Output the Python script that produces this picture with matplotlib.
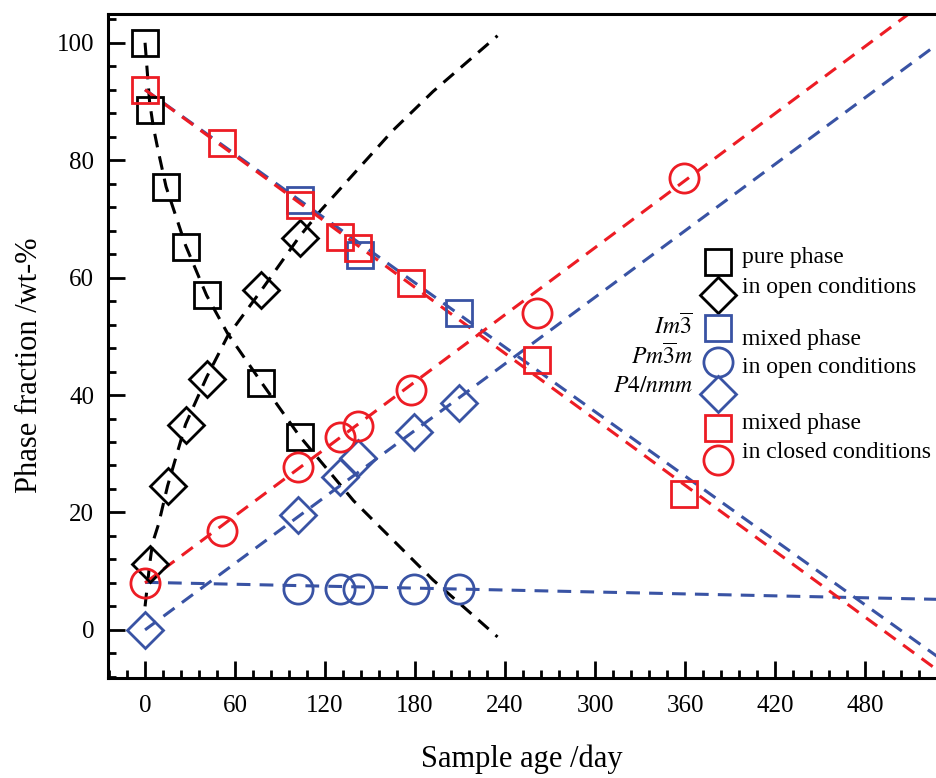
import matplotlib
matplotlib.use("Agg")
import matplotlib.pyplot as plt
from matplotlib.ticker import MultipleLocator

plt.rcParams['font.family'] = ['Liberation Serif', 'DejaVu Serif']
plt.rcParams['mathtext.fontset'] = 'stix'

BLACK = '#000000'
BLUE = '#3953a4'
RED = '#ed1c24'

# ---- data: pure phase, open conditions ----
pure_sq_day = [0, 3, 14, 27, 41, 77, 103]
pure_sq_val = [100, 88.6, 75.4, 65.2, 57.1, 42.1, 32.9]
pure_di_day = [3, 15, 27, 41, 77, 103]
pure_di_val = [11.2, 24.5, 34.9, 42.7, 57.9, 66.8]

# fitted curves
pure_dec_day = [0, 3, 5.5, 9, 14, 27, 41, 55, 78, 103, 139, 192, 235]
pure_dec_val = [100, 90, 85.7, 81.3, 75.5, 65.5, 57, 50.5, 42, 33, 22, 8.5, -1.2]
pure_gro_day = [0, 3, 5, 9, 15, 27, 41, 55, 78, 103, 117, 129, 165, 192, 235]
pure_gro_val = [4, 11, 14.8, 18, 24.5, 35, 43, 50, 58, 67, 71.4, 74.8, 85, 91.7, 101.2]

# ---- mixed phase, open conditions ----
im3_day = [103, 143, 209]
im3_val = [73.3, 63.9, 54]
pm3m_day = [102, 130, 142, 179, 209]
pm3m_val = [6.9, 6.9, 6.9, 6.9, 6.9]
p4_day = [0, 102, 130, 142, 179, 209]
p4_val = [0, 19.6, 26.1, 29.3, 33.7, 38.7]

im3_fit_day = [0, 528]
im3_fit_val = [92, -4.5]
pm3m_fit_day = [0, 528]
pm3m_fit_val = [8.1, 5.2]
p4_fit_day = [0, 528]
p4_fit_val = [0, 99.7]

# ---- mixed phase, closed conditions ----
cl_sq_day = [0, 51, 103, 130, 142, 177, 261, 359]
cl_sq_val = [92, 83, 72.3, 67, 65.1, 59, 46, 23.2]
cl_ci_day = [0, 51, 102, 130, 142, 177, 261, 359]
cl_ci_val = [7.9, 16.9, 27.8, 32.9, 34.8, 40.9, 53.9, 77]

cl_sq_fit_day = [0, 528]
cl_sq_fit_val = [92, -6.8]
cl_ci_fit_day = [0, 528]
cl_ci_fit_val = [8, 108.5]

fig = plt.figure(figsize=(9.37, 7.78), dpi=100)
ax = fig.add_axes([108/937, 100/778, 829/937, 664/778])

dash = (0, (4.5, 3))
lw = 2.2
ax.plot(pure_dec_day, pure_dec_val, color=BLACK, lw=lw, ls=dash)
ax.plot(pure_gro_day, pure_gro_val, color=BLACK, lw=lw, ls=dash)
ax.plot(pm3m_fit_day, pm3m_fit_val, color=BLUE, lw=lw, ls=dash)
ax.plot(p4_fit_day, p4_fit_val, color=BLUE, lw=lw, ls=dash)
ax.plot(im3_fit_day, im3_fit_val, color=BLUE, lw=lw, ls=dash)
ax.plot(cl_ci_fit_day, cl_ci_fit_val, color=RED, lw=lw, ls=dash)
ax.plot(cl_sq_fit_day, cl_sq_fit_val, color=RED, lw=lw, ls=dash)

mew = 2.0
MS_S, MS_D, MS_O = 19, 18, 21
def pts(x, y, m, c, ms):
    ax.plot(x, y, ls='none', marker=m, ms=ms, mfc='none', mec=c, mew=mew, clip_on=False)

pts(pure_sq_day, pure_sq_val, 's', BLACK, MS_S)
pts(pure_di_day, pure_di_val, 'D', BLACK, MS_D)
pts(im3_day, im3_val, 's', BLUE, MS_S)
pts(pm3m_day, pm3m_val, 'o', BLUE, MS_O)
pts(p4_day, p4_val, 'D', BLUE, MS_D)
pts(cl_sq_day, cl_sq_val, 's', RED, MS_S)
pts(cl_ci_day, cl_ci_val, 'o', RED, MS_O)

ax.set_xlim(-24.7, 528)
ax.set_ylim(-8.2, 104.9)
ax.xaxis.set_major_locator(MultipleLocator(60))
ax.xaxis.set_minor_locator(MultipleLocator(12))
ax.yaxis.set_major_locator(MultipleLocator(20))
ax.yaxis.set_minor_locator(MultipleLocator(4))
ax.tick_params(which='both', direction='in', width=2.0, labelsize=18,
               top=False, right=False)
ax.tick_params(which='major', length=12)
ax.tick_params(which='minor', length=6)
ax.tick_params(axis='y', pad=10)
ax.tick_params(axis='x', pad=12)
for s in ['left', 'bottom', 'top']:
    ax.spines[s].set_linewidth(2.2)
ax.spines['right'].set_visible(False)

ax.set_xlabel('Sample age /day', fontsize=22)
ax.set_ylabel('Phase fraction /wt-%', fontsize=22)
ax.xaxis.set_label_coords((522 - 108) / 829, (678 - 744) / 664)
ax.yaxis.set_label_coords((44 - 108) / 829, (678 - 365) / 664)

# ---- custom legend ----
def fy(py):
    return (678 - py) / 664
lx = (718 - 108) / 829
tx = (742 - 108) / 829
rx = (693 - 108) / 829
leg = [('s', BLACK, MS_S, 262), ('D', BLACK, MS_D, 295), ('s', BLUE, MS_S, 328),
       ('o', BLUE, MS_O, 362), ('D', BLUE, MS_D, 394), ('s', RED, MS_S, 428),
       ('o', RED, MS_O, 460)]
for m, c, ms, py in leg:
    ax.plot([lx], [fy(py)], marker=m, ms=ms, mfc='none', mec=c, mew=mew,
            transform=ax.transAxes, clip_on=False)
texts = [('pure phase', 257), ('in open conditions', 287), ('mixed phase', 340),
         ('in open conditions', 368), ('mixed phase', 423), ('in closed conditions', 452)]
for t, py in texts:
    ax.text(tx, fy(py), t, fontsize=17, ha='left', va='center', transform=ax.transAxes)
phases = [(r'$Im\overline{3}$', 326), (r'$Pm\overline{3}m$', 356), (r'$P4/nmm$', 386)]
for t, py in phases:
    ax.text(rx, fy(py), t, fontsize=17, ha='right', va='center', transform=ax.transAxes)

fig.savefig('out.png', dpi=100)
